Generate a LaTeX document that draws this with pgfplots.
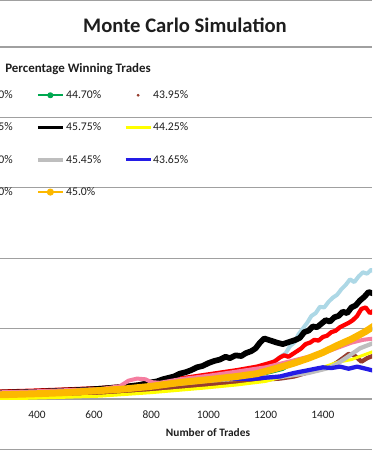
\documentclass[border=0pt]{standalone}
\usepackage{fontspec}
\setmainfont{Carlito}
\usepackage{pgfplots}
\pgfplotsset{compat=1.18}
\definecolor{gridgray}{RGB}{160,160,160}
\definecolor{txt}{RGB}{30,30,30}
\definecolor{cLightBlue}{RGB}{173,216,230}
\definecolor{cGreen}{RGB}{0,168,80}
\definecolor{cBrown}{RGB}{150,60,45}
\definecolor{cRed}{RGB}{255,0,0}
\definecolor{cBlack}{RGB}{0,0,0}
\definecolor{cYellow}{RGB}{255,255,0}
\definecolor{cPink}{RGB}{245,125,160}
\definecolor{cGray}{RGB}{190,190,190}
\definecolor{cBlue}{RGB}{36,28,230}
\definecolor{cPurple}{RGB}{112,48,160}
\definecolor{cOrange}{RGB}{252,184,0}
\begin{document}
\begin{tikzpicture}
\useasboundingbox (0,0) rectangle (279pt,337.5pt);
\clip (0,0) rectangle (279pt,337.5pt);
\begin{axis}[
  at={(0pt,38.25pt)}, anchor=south west,
  scale only axis, width=279pt, height=264pt,
  xmin=271, xmax=1572, ymin=0, ymax=5,
  xtick={200,400,...,1600}, ytick={0,1,...,5}, yticklabel=\empty,
  ymajorgrids, grid style={draw=gridgray, line width=0.9pt},
  axis line style={draw=none},
  major tick length=0pt,
  tick label style={font=\fontsize{8.5}{10}\selectfont, text=txt},
  xticklabel style={anchor=center, yshift=-12pt},
  /pgf/number format/assume math mode=true,
  /pgf/number format/set thousands separator={},
  legend columns=3,
  legend cell align=left,
  legend image code/.code={\draw[mark repeat=2,mark phase=2,#1] plot coordinates {(0pt,0pt) (9.375pt,0pt) (18.75pt,0pt)};},
  legend style={at={(axis description cs:0,1)}, anchor=north west, xshift=-39.5pt, yshift=-32pt,
    draw=none, fill=none, inner sep=0pt, column sep=0pt, row sep=16.2pt,
    font=\fontsize{8.8}{10}\selectfont, text=txt,
    nodes={inner sep=0pt, text height=6.5pt, text depth=1.5pt}},
  every axis plot/.append style={line join=round, forget plot},
]
% s1 light blue
\addplot[cLightBlue, line width=3pt] coordinates {
(271,0.10)(400,0.11)(500,0.125)(600,0.145)(700,0.17)(800,0.205)(900,0.25)(1000,0.30)(1100,0.37)(1150,0.41)(1180,0.45)(1200,0.48)(1220,0.52)(1240,0.56)(1255,0.61)(1270,0.65)(1285,0.75)(1300,0.80)(1315,0.92)(1330,1.00)(1345,1.08)(1360,1.18)(1375,1.22)(1390,1.31)(1405,1.30)(1420,1.38)(1435,1.44)(1450,1.48)(1465,1.56)(1480,1.62)(1495,1.70)(1510,1.66)(1525,1.74)(1540,1.80)(1555,1.78)(1570,1.84)(1580,1.80)};
% s2 green
\addplot[cGreen, line width=2.25pt] coordinates {
(271,0.05)(400,0.065)(500,0.08)(600,0.10)(700,0.125)(800,0.155)(900,0.19)(1000,0.23)(1100,0.28)(1200,0.36)(1260,0.42)(1300,0.52)(1330,0.55)(1360,0.58)(1400,0.64)(1430,0.70)(1460,0.78)(1500,0.85)(1540,0.95)(1580,1.0)};
% s3 brown
\addplot[cBrown, line width=3.2pt] coordinates {
(271,0.02)(400,0.035)(500,0.05)(621,0.07)(700,0.09)(800,0.125)(900,0.17)(1000,0.20)(1100,0.24)(1170,0.27)(1250,0.29)(1300,0.32)(1350,0.38)(1400,0.43)(1430,0.47)(1450,0.52)(1470,0.58)(1490,0.64)(1510,0.62)(1535,0.53)(1555,0.58)(1580,0.62)};
% s4 red
\addplot[cRed, line width=3.2pt] coordinates {
(271,0.105)(400,0.12)(500,0.135)(621,0.155)(700,0.18)(800,0.22)(900,0.29)(1000,0.35)(1050,0.38)(1100,0.41)(1170,0.46)(1230,0.53)(1250,0.59)(1265,0.62)(1280,0.60)(1295,0.64)(1310,0.68)(1325,0.72)(1340,0.78)(1355,0.80)(1370,0.84)(1385,0.83)(1400,0.88)(1415,0.90)(1430,0.95)(1445,0.97)(1460,1.02)(1475,1.05)(1490,1.08)(1505,1.12)(1520,1.18)(1535,1.28)(1550,1.30)(1565,1.22)(1580,1.26)};
% s5 black
\addplot[cBlack, line width=4.3pt] coordinates {
(271,0.09)(320,0.095)(380,0.10)(440,0.11)(500,0.12)(560,0.13)(620,0.145)(680,0.165)(720,0.18)(760,0.20)(790,0.23)(820,0.25)(840,0.28)(860,0.30)(880,0.32)(900,0.36)(920,0.38)(940,0.41)(960,0.45)(980,0.47)(1000,0.51)(1020,0.54)(1040,0.56)(1060,0.60)(1075,0.58)(1095,0.62)(1115,0.61)(1130,0.65)(1150,0.68)(1165,0.72)(1180,0.80)(1195,0.86)(1210,0.84)(1225,0.82)(1240,0.80)(1260,0.78)(1275,0.80)(1290,0.82)(1305,0.84)(1320,0.87)(1335,0.95)(1350,0.97)(1365,1.03)(1380,1.02)(1395,1.07)(1410,1.12)(1425,1.10)(1440,1.16)(1455,1.18)(1470,1.24)(1485,1.22)(1500,1.30)(1515,1.33)(1530,1.40)(1545,1.45)(1560,1.52)(1575,1.50)};
% s6 yellow
\addplot[cYellow, line width=2.25pt] coordinates {
(271,0.0)(500,0.025)(621,0.04)(800,0.09)(1000,0.16)(1100,0.20)(1200,0.25)(1300,0.36)(1350,0.40)(1400,0.45)(1450,0.52)(1500,0.56)(1540,0.62)(1580,0.68)};
% s7 pink
\addplot[cPink, line width=3pt] coordinates {
(271,0.095)(400,0.11)(500,0.125)(621,0.14)(690,0.18)(720,0.26)(750,0.29)(780,0.28)(800,0.24)(830,0.23)(900,0.28)(1000,0.33)(1100,0.39)(1200,0.45)(1300,0.55)(1400,0.65)(1460,0.74)(1500,0.80)(1540,0.84)(1580,0.86)};
% s8 gray
\addplot[cGray, line width=3.2pt] coordinates {
(271,0.055)(500,0.085)(800,0.175)(1000,0.26)(1150,0.30)(1250,0.31)(1350,0.37)(1420,0.44)(1450,0.50)(1480,0.58)(1530,0.72)(1580,0.80)};
% s9 blue
\addplot[cBlue, line width=3.2pt] coordinates {
(271,0.055)(400,0.07)(500,0.085)(600,0.11)(700,0.135)(800,0.175)(900,0.23)(1000,0.27)(1080,0.29)(1150,0.285)(1250,0.32)(1300,0.37)(1350,0.41)(1400,0.45)(1430,0.44)(1460,0.46)(1490,0.43)(1520,0.46)(1550,0.43)(1580,0.40)};
% s10 purple (hidden)
\addplot[cPurple, line width=2pt] coordinates {
(271,0.05)(500,0.08)(800,0.17)(1000,0.26)(1170,0.34)(1300,0.49)(1400,0.64)(1500,0.83)(1580,1.02)};
% s11 orange
\addplot[cOrange, line width=5.2pt] coordinates {
(271,0.06)(400,0.075)(500,0.09)(600,0.115)(700,0.14)(800,0.18)(900,0.235)(1000,0.275)(1100,0.32)(1170,0.36)(1250,0.45)(1300,0.51)(1350,0.58)(1400,0.66)(1450,0.76)(1500,0.85)(1550,0.96)(1580,1.04)};
% legend
\addlegendimage{cLightBlue, line width=3pt}
\addlegendentry{\hspace{0.75pt}\makebox[43.5pt][l]{46.20\%}}
\addlegendimage{cGreen, line width=1.5pt, mark=*, mark size=1.5pt}
\addlegendentry{\hspace{0.75pt}\makebox[43.5pt][l]{44.70\%}}
\addlegendimage{cBrown, only marks, mark=*, mark size=0.9pt}
\addlegendentry{\hspace{0.75pt}\makebox[43.5pt][l]{43.95\%}}
\addlegendimage{cRed, line width=2.25pt}
\addlegendentry{\hspace{0.75pt}\makebox[43.5pt][l]{45.95\%}}
\addlegendimage{cBlack, line width=2.25pt}
\addlegendentry{\hspace{0.75pt}\makebox[43.5pt][l]{45.75\%}}
\addlegendimage{cYellow, line width=2.25pt}
\addlegendentry{\hspace{0.75pt}\makebox[43.5pt][l]{44.25\%}}
\addlegendimage{cPink, line width=2.25pt}
\addlegendentry{\hspace{0.75pt}\makebox[43.5pt][l]{45.60\%}}
\addlegendimage{cGray, line width=3.4pt}
\addlegendentry{\hspace{0.75pt}\makebox[43.5pt][l]{45.45\%}}
\addlegendimage{cBlue, line width=2.25pt}
\addlegendentry{\hspace{0.75pt}\makebox[43.5pt][l]{43.65\%}}
\addlegendimage{cPurple, line width=2.25pt}
\addlegendentry{\hspace{0.75pt}\makebox[43.5pt][l]{45.30\%}}
\addlegendimage{cOrange, line width=1.5pt, mark=*, mark size=1.9pt}
\addlegendentry{\hspace{0.75pt}\makebox[43.5pt][l]{45.0\%}}
\end{axis}
\draw[gridgray, line width=0.9pt] (0,336.9pt) -- (279pt,336.9pt);
\draw[gridgray, line width=0.9pt] (0,0.6pt) -- (279pt,0.6pt);
\node[font=\fontsize{15.5}{17}\selectfont\bfseries, text=txt] at (138.75pt,318.75pt) {Monte Carlo Simulation};
\node[font=\fontsize{9.7}{11}\selectfont\bfseries, text=txt, anchor=west, inner sep=0pt] at (3.75pt,285.75pt) {Percentage Winning Trades};
\node[font=\fontsize{8.5}{10}\selectfont\bfseries, text=txt] at (156pt,12.75pt) {Number of Trades};
\end{tikzpicture}
\end{document}
